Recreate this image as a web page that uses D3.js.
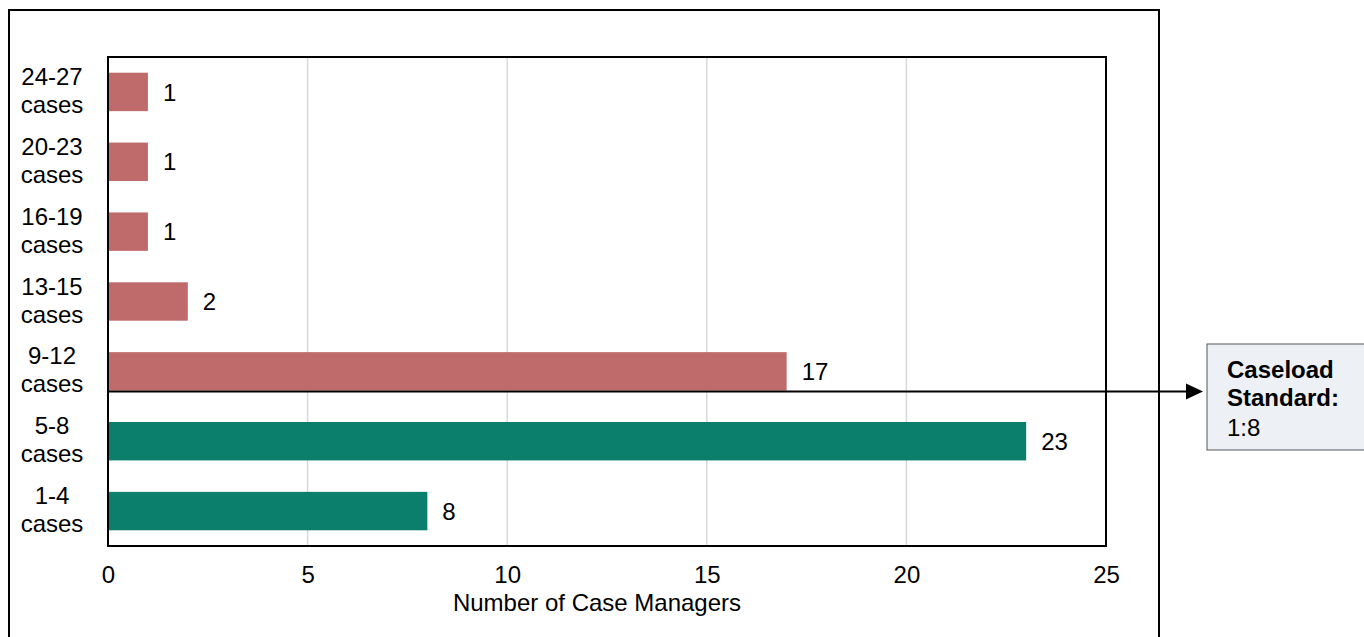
<!DOCTYPE html>
<html lang="en">
<head>
<meta charset="utf-8">
<title>Caseload distribution</title>
<script src="https://cdn.jsdelivr.net/npm/d3@7"></script>
<style>
  body { margin: 0; background: #fff; }
  text { font-family: "Liberation Sans", Arial, sans-serif; fill: #000; }
</style>
</head>
<body>
<script>
// data (top to bottom)
var categories = ["24-27", "20-23", "16-19", "13-15", "9-12", "5-8", "1-4"];
var counts = [1, 1, 1, 2, 17, 23, 8];
var overStandard = [true, true, true, true, true, false, false];
var xTicks = [0, 5, 10, 15, 20, 25];
var standardLabel = ["Caseload", "Standard:"];
var standardValue = "1:8";

var W = 1364, H = 637;
var plot = { left: 108, right: 1106, top: 57, bottom: 546 };
var FONT = "Liberation Sans, Arial, sans-serif";

var svg = d3.select("body").append("svg")
    .attr("width", W)
    .attr("height", H);

// outer chart frame
svg.append("rect")
    .attr("x", 9).attr("y", 10)
    .attr("width", 1150).attr("height", 640)
    .attr("fill", "none")
    .attr("stroke", "#000")
    .attr("stroke-width", 2);

var x = d3.scaleLinear().domain([0, 25]).range([plot.left, plot.right]);
var y = d3.scaleBand().domain(categories)
    .range([plot.top, plot.bottom])
    .paddingInner(0.45).paddingOuter(0.225);

// gridlines
svg.append("g")
    .selectAll("line")
    .data(xTicks.slice(1, -1))
    .enter().append("line")
    .attr("x1", function(d) { return x(d); })
    .attr("x2", function(d) { return x(d); })
    .attr("y1", plot.top).attr("y2", plot.bottom)
    .attr("stroke", "#d9d9d9")
    .attr("stroke-width", 1.5);

// bars
svg.append("g")
    .selectAll("rect")
    .data(categories)
    .enter().append("rect")
    .attr("x", x(0))
    .attr("y", function(d) { return y(d); })
    .attr("width", function(d, i) { return x(counts[i]) - x(0); })
    .attr("height", y.bandwidth())
    .attr("fill", function(d, i) { return overStandard[i] ? "#c06b6b" : "#0b7f6b"; });

// value labels
svg.append("g")
    .selectAll("text")
    .data(categories)
    .enter().append("text")
    .attr("x", function(d, i) { return x(counts[i]) + 15; })
    .attr("y", function(d) { return y(d) + y.bandwidth() / 2; })
    .attr("dy", "0.36em")
    .style("font-size", "24px")
    .text(function(d, i) { return counts[i]; });

// category labels, two lines, centred
var catLabels = svg.append("g")
    .selectAll("text")
    .data(categories)
    .enter().append("text")
    .attr("text-anchor", "middle")
    .style("font-size", "24px");
catLabels.append("tspan")
    .attr("x", 52)
    .attr("y", function(d) { return y(d) + y.bandwidth() / 2 - 7; })
    .text(function(d) { return d; });
catLabels.append("tspan")
    .attr("x", 52)
    .attr("y", function(d) { return y(d) + y.bandwidth() / 2 + 21; })
    .text("cases");

// x axis tick labels
var xAxis = d3.axisBottom(x).tickValues(xTicks).tickSize(0).tickPadding(20);
var gx = svg.append("g")
    .attr("transform", "translate(0," + plot.bottom + ")")
    .call(xAxis);
gx.select(".domain").remove();
gx.selectAll("text")
    .style("font-family", FONT)
    .style("font-size", "24px")
    .attr("fill", "#000");

svg.append("text")
    .attr("x", 597).attr("y", 611)
    .attr("text-anchor", "middle")
    .style("font-size", "24px")
    .text("Number of Case Managers");

// plot frame
svg.append("rect")
    .attr("x", plot.left).attr("y", plot.top)
    .attr("width", plot.right - plot.left)
    .attr("height", plot.bottom - plot.top)
    .attr("fill", "none")
    .attr("stroke", "#000")
    .attr("stroke-width", 2);

// caseload standard line, along the bottom of the 9-12 bar
var lineY = y("9-12") + y.bandwidth() + 1;
svg.append("line")
    .attr("x1", plot.left).attr("x2", 1190)
    .attr("y1", lineY).attr("y2", lineY)
    .attr("stroke", "#000")
    .attr("stroke-width", 2);
svg.append("path")
    .attr("d", "M1186," + (lineY - 8) + " L1203," + lineY + " L1186," + (lineY + 8) + " Z")
    .attr("fill", "#000");

// standard callout box
svg.append("rect")
    .attr("x", 1207).attr("y", 344)
    .attr("width", 160).attr("height", 106)
    .attr("fill", "#edf0f5")
    .attr("stroke", "#555")
    .attr("stroke-width", 1);
svg.append("text")
    .attr("x", 1227).attr("y", 378)
    .style("font-size", "24px").style("font-weight", "bold")
    .text(standardLabel[0]);
svg.append("text")
    .attr("x", 1227).attr("y", 406)
    .style("font-size", "24px").style("font-weight", "bold")
    .text(standardLabel[1]);
svg.append("text")
    .attr("x", 1227).attr("y", 436)
    .style("font-size", "24px")
    .text(standardValue);
</script>
</body>
</html>
